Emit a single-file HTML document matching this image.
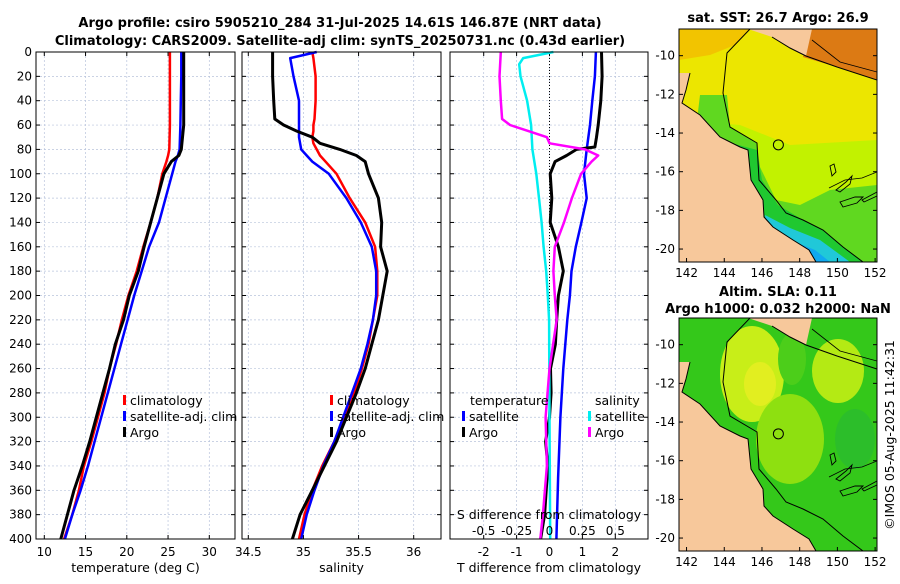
<!DOCTYPE html>
<html><head><meta charset="utf-8">
<style>
body{margin:0;background:#fff;width:900px;height:580px;overflow:hidden;font-family:"DejaVu Sans","Liberation Sans",sans-serif;}
svg text{font-family:"DejaVu Sans","Liberation Sans",sans-serif;}
</style></head>
<body>
<svg id="fig" width="900" height="580" viewBox="0 0 900 580" xmlns="http://www.w3.org/2000/svg">
<text x="340" y="27" font-size="13" font-weight="bold" text-anchor="middle">Argo profile: csiro 5905210_284 31-Jul-2025 14.61S 146.87E (NRT data)</text>
<text x="340" y="45" font-size="13" font-weight="bold" text-anchor="middle">Climatology: CARS2009. Satellite-adj clim: synTS_20250731.nc (0.43d earlier)</text>
<text x="778" y="22" font-size="13" font-weight="bold" text-anchor="middle">sat. SST: 26.7 Argo: 26.9</text>
<text x="778" y="296" font-size="13" font-weight="bold" text-anchor="middle">Altim. SLA: 0.11</text>
<text x="778" y="313" font-size="13" font-weight="bold" text-anchor="middle">Argo h1000: 0.032 h2000: NaN</text>
<text transform="translate(894,435) rotate(-90)" font-size="12.5" text-anchor="middle">©IMOS 05-Aug-2025 11:42:31</text>
<g id="plots"></g>
</svg>
<script>
const tempDepths=[0,20,40,60,80,85,90,100,120,140,160,180,200,220,240,260,280,300,320,340,360,380,400];
const tempClim=[25.23,25.23,25.23,25.23,25.15,25.0,24.8,24.3,23.7,22.9,22.0,21.2,20.2,19.4,18.7,17.9,17.3,16.5,15.7,14.8,14.2,13.4,12.4];
const tempSat=[26.6,26.6,26.55,26.5,26.4,26.2,25.9,25.5,24.7,23.9,22.7,21.8,20.9,20.1,19.3,18.5,17.7,16.9,16.1,15.3,14.4,13.4,12.5];
const tempArgo=[26.9,26.9,26.9,26.9,26.6,26.3,25.4,24.5,23.7,22.9,22.1,21.4,20.3,19.6,18.6,17.9,17.1,16.3,15.5,14.6,13.6,12.8,12.0];
const salDepths=[0,5,20,40,55,60,65,70,75,80,85,90,100,120,140,160,180,200,220,240,260,280,300,320,340,360,380,400];
const salArgo=[34.72,34.72,34.72,34.73,34.74,34.82,34.94,35.08,35.15,35.33,35.48,35.56,35.59,35.68,35.71,35.70,35.76,35.72,35.68,35.62,35.56,35.48,35.39,35.30,35.19,35.08,34.97,34.90];
const salClim=[35.08,35.09,35.11,35.11,35.10,35.09,35.09,35.08,35.09,35.12,35.15,35.2,35.3,35.42,35.56,35.65,35.67,35.67,35.63,35.59,35.53,35.46,35.37,35.28,35.17,35.08,35.01,34.96];
const salSat=[35.12,34.88,34.91,34.96,34.96,34.96,34.96,34.96,34.97,34.98,35.03,35.08,35.23,35.39,35.52,35.62,35.66,35.66,35.63,35.58,35.52,35.44,35.36,35.28,35.18,35.10,35.03,34.98];
const dTSatDepths=[0,20,40,60,80,100,120,140,160,180,200,220,260,300,350,400];
const dTSat=[1.41,1.38,1.30,1.23,1.13,1.05,1.13,0.97,0.8,0.67,0.62,0.54,0.42,0.33,0.26,0.21];
const dTArgoDepths=[0,20,40,60,70,78,80,85,90,100,120,140,160,180,200,220,240,260,280,300,320,340,360,380,400];
const dTArgo=[1.58,1.6,1.56,1.48,1.43,1.38,0.82,0.52,0.17,0.02,0.07,0.02,0.27,0.42,0.27,0.22,0.18,0.03,0.05,0.0,-0.12,-0.05,-0.1,-0.15,-0.27];
const dSSatDepths=[0,5,10,20,40,60,80,100,120,140,160,180,200,220,300,400];
const dSSat=[0.03,-0.2,-0.23,-0.22,-0.17,-0.14,-0.13,-0.1,-0.08,-0.06,-0.045,-0.025,-0.013,-0.003,0.0,0.005];
const dSArgoDepths=[0,20,40,55,60,65,70,75,80,85,90,100,120,140,160,180,200,220,260,300,340,380,400];
const dSArgo=[-0.37,-0.38,-0.37,-0.36,-0.30,-0.16,-0.02,0.0,0.27,0.37,0.32,0.24,0.17,0.11,0.04,0.03,0.04,0.055,0.0,-0.03,-0.02,-0.05,-0.07];
const yTicks=[0,20,40,60,80,100,120,140,160,180,200,220,240,260,280,300,320,340,360,380,400];
const tTicks=[10,15,20,25,30];
const sTicks=[34.5,35,35.5,36];
const dTTicks=[-2,-1,0,1,2];
const dSTicks=[-0.5,-0.25,0,0.25,0.5];
const dSLabels=['-0.5','-0.25','0','0.25','0.5'];
const lonTicks=[142,144,146,148,150,152];
const latTicks=[-10,-12,-14,-16,-18,-20];

const NS='http://www.w3.org/2000/svg';
const root=document.getElementById('plots');
function mk(tag,attrs,parent,text){const e=document.createElementNS(NS,tag);for(const k in attrs)e.setAttribute(k,attrs[k]);if(text!==undefined)e.textContent=text;(parent||root).appendChild(e);return e;}
const Y0=52,Y1=539;
const yS=d=>Y0+(d/400)*(Y1-Y0);
function lin(d0,d1,r0,r1){return v=>r0+(v-d0)/(d1-d0)*(r1-r0);}

const panels=[
 {x0:36,x1:235,sc:lin(10,30,44.3,209.3),ticks:tTicks,name:'temperature-panel',xlabel:'temperature (deg C)'},
 {x0:242,x1:441,sc:lin(34.5,36,248.3,413.7),ticks:sTicks,name:'salinity-panel',xlabel:'salinity'},
 {x0:450,x1:648,sc:lin(-2,2,483.7,615.3),ticks:dTTicks,name:'difference-panel',xlabel:'T difference from climatology'}
];
panels.forEach((p,pi)=>{
 const g=mk('g',{});
 
 
 yTicks.forEach(d=>{const l=mk('line',{x1:p.x0,x2:p.x1,y1:yS(d),y2:yS(d),stroke:'#b8c4dc','stroke-width':0.7,'stroke-dasharray':'2,2'},g);
  
  mk('line',{x1:p.x0,x2:p.x0+4,y1:yS(d),y2:yS(d),stroke:'#000'},g);mk('line',{x1:p.x1-4,x2:p.x1,y1:yS(d),y2:yS(d),stroke:'#000'},g);
  if(pi===0){const t=mk('text',{x:p.x0-4,y:yS(d)+4,'font-size':12,'text-anchor':'end'},g,String(d));}
 });
 p.ticks.forEach(v=>{const X=p.sc(v);const l=mk('line',{x1:X,x2:X,y1:Y0,y2:Y1,stroke:'#b8c4dc','stroke-width':0.7,'stroke-dasharray':'2,2'},g);
  
  mk('line',{x1:X,x2:X,y1:Y1-4,y2:Y1,stroke:'#000'},g);mk('line',{x1:X,x2:X,y1:Y0,y2:Y0+4,stroke:'#000'},g);
  const t=mk('text',{x:X,y:556,'font-size':12,'text-anchor':'middle'},g,String(v));
 });
 const xt=mk('text',{x:(p.x0+p.x1)/2,y:572,'font-size':12.5,'text-anchor':'middle'},g,p.xlabel);
 
 p.g=g;
});
function series(p,deps,vals,sc,color,name,w){
 const pts=vals.map((v,i)=>sc(v).toFixed(1)+','+yS(deps[i]).toFixed(1)).join(' ');
 const e=mk('polyline',{points:pts,fill:'none',stroke:color,'stroke-width':w||2.5,'stroke-linejoin':'round'},p.g);
 
 
}
const P=panels;
series(P[0],tempDepths,tempClim,P[0].sc,'#ff0000','temp-climatology-line');
series(P[0],tempDepths,tempSat,P[0].sc,'#0000ff','temp-satellite-line');
series(P[0],tempDepths,tempArgo,P[0].sc,'#000','temp-argo-line',3);
series(P[1],salDepths,salClim,P[1].sc,'#ff0000','sal-climatology-line');
series(P[1],salDepths,salSat,P[1].sc,'#0000ff','sal-satellite-line');
series(P[1],salDepths,salArgo,P[1].sc,'#000','sal-argo-line',3);
const sS=lin(-0.5,0.5,483.7,615.3);
mk('line',{x1:P[2].sc(0),x2:P[2].sc(0),y1:Y0,y2:Y1,stroke:'#000','stroke-width':1,'stroke-dasharray':'1,2'},P[2].g);
series(P[2],dTSatDepths,dTSat,P[2].sc,'#0000ff','dT-satellite-line');
series(P[2],dTArgoDepths,dTArgo,P[2].sc,'#000','dT-argo-line',3);
series(P[2],dSSatDepths,dSSat,sS,'#00eef0','dS-satellite-line');
series(P[2],dSArgoDepths,dSArgo,sS,'#ff00ff','dS-argo-line');
const st=mk('text',{x:549,y:519,'font-size':12.5,'text-anchor':'middle'},P[2].g,'S difference from climatology');

dSTicks.forEach((v,i)=>{const t=mk('text',{x:sS(v),y:535,'font-size':12,'text-anchor':'middle'},P[2].g,dSLabels[i]);});
panels.forEach(p=>{mk('rect',{x:p.x0,y:Y0,width:p.x1-p.x0,height:Y1-Y0,fill:'none',stroke:'#000','stroke-width':1},p.g);});
function leg(g,x,y,color,label){const e=mk('g',{},g);
 mk('rect',{x:x,y:y-10,width:3,height:10,fill:color},e);mk('text',{x:x+7,y:y,'font-size':12.5},e,label);}
leg(P[0].g,123,405,'#ff0000','climatology');leg(P[0].g,123,421,'#0000ff','satellite-adj. clim');leg(P[0].g,123,437,'#000','Argo');
leg(P[1].g,330,405,'#ff0000','climatology');leg(P[1].g,330,421,'#0000ff','satellite-adj. clim');leg(P[1].g,330,437,'#000','Argo');
mk('text',{x:470,y:405,'font-size':12.5},P[2].g,'temperature');
leg(P[2].g,462,421,'#0000ff','satellite');leg(P[2].g,462,437,'#000','Argo');
mk('text',{x:595,y:405,'font-size':12.5},P[2].g,'salinity');
leg(P[2].g,588,421,'#00eef0','satellite');leg(P[2].g,588,437,'#ff00ff','Argo');

function map(dy,type,name){
 const g=mk('g',{});
 const x0=679,y0=29,W=198,H=233;
 const id='cl'+type;
 const cp=mk('clipPath',{id:id},g);mk('rect',{x:x0,y:y0+dy,width:W,height:H},cp);
 const outer=mk('g',{'clip-path':'url(#'+id+')'},g);
 const c=mk('g',{transform:'translate(0,'+dy+')'},outer);
 const lon=v=>x0+(v-141.6)/(152.1-141.6)*W;
 const lat=v=>y0+dy+(-8.62-v)/(12.05)*H;
 const P=(pts,fill,op)=>mk('polygon',{points:pts,fill:fill,opacity:op||1},c);
 if(type==='sst'){
  P(`${x0},${y0} ${x0+W},${y0} ${x0+W},${y0+H} ${x0},${y0+H}`,'#ece600');
  P('679,29 750,29 735,45 710,55 679,60','#f2c400');
  P('680,120 740,125 790,145 877,140 877,262 680,262','#c2f200');
  P('700,95 727,95 730,127 757,143 760,167 776,200 800,205 830,190 877,185 877,262 680,262','#60d820');
  P('720,140 757,150 762,180 778,205 803,220 823,230 843,247 863,262 680,262','#20c830');
  P('765,215 790,228 820,240 850,262 770,262','#20c8d8');
  P('790,240 815,250 830,262 795,262','#10a8f0');
  P('812,29 877,29 877,80 837,67 803,57','#dc7a14');
 } else {
  P(`${x0},${y0} ${x0+W},${y0} ${x0+W},${y0+H} ${x0},${y0+H}`,'#34c81a');
  mk('ellipse',{cx:752,cy:85,rx:32,ry:48,fill:'#c8ee18'},c);
  mk('ellipse',{cx:760,cy:95,rx:16,ry:22,fill:'#e2ee20'},c);
  mk('ellipse',{cx:838,cy:82,rx:26,ry:32,fill:'#b4ea14'},c);
  mk('ellipse',{cx:792,cy:70,rx:14,ry:26,fill:'#4cce1a'},c);
  mk('ellipse',{cx:790,cy:150,rx:34,ry:45,fill:'#8ee010'},c);
  mk('ellipse',{cx:855,cy:150,rx:20,ry:30,fill:'#2cbe2a'},c);
 }
 const land='#f7c89b';
 P('679,73 690,73 686,90 682,103 700,115 720,137 740,147 748,150 751,180 763,200 764,217 773,227 793,240 809,250 816,262 679,262',land);
 mk('polyline',{points:'690,73 686,90 682,103 700,115 720,137 740,147 748,150 751,180 763,200 764,217 773,227 793,240 809,250 816,262',fill:'none',stroke:'#000','stroke-width':1},c);
 P('748,29 812,29 806,56 790,48 772,37',land);
 mk('polyline',{points:'772,37 790,48 806,56 837,67 877,80',fill:'none',stroke:'#000','stroke-width':1},c);
 mk('polyline',{points:'750,29 727,53 723,93 730,127 757,143 759,180 776,200 786,213 803,220 823,230 843,247 863,262',fill:'none',stroke:'#000','stroke-width':1},c);
 mk('polyline',{points:'812,40 840,62 877,72',fill:'none',stroke:'#000','stroke-width':0.8},c);
 mk('polyline',{points:'829,188 845,180 862,178 877,172',fill:'none',stroke:'#000','stroke-width':0.8},c);
 mk('path',{d:'M830,166 l4,-2 l2,8 l-4,4 z M836,190 l10,-8 l6,-6 l-2,8 l-10,8 z M840,202 l15,-5 l8,0 l-6,6 l-14,4 z M862,200 l15,-8 l0,4 l-13,6 z',fill:'none',stroke:'#000','stroke-width':0.9},c);
 const m=mk('circle',{cx:lon(146.87),cy:lat(-14.61),r:5,fill:'none',stroke:'#000','stroke-width':1},g);
 
 mk('rect',{x:x0,y:y0+dy,width:W,height:H,fill:'none',stroke:'#000'},g);
 lonTicks.forEach(v=>{const X=lon(v);mk('line',{x1:X,x2:X,y1:y0+dy+H-4,y2:y0+dy+H,stroke:'#000'},g);
  const t=mk('text',{x:X,y:y0+dy+H+15,'font-size':12,'text-anchor':'middle'},g,String(v));});
 latTicks.forEach(v=>{const Yv=lat(v);mk('line',{x1:x0+W-4,x2:x0+W,y1:Yv,y2:Yv,stroke:'#000'},g);mk('line',{x1:x0,x2:x0+4,y1:Yv,y2:Yv,stroke:'#000'},g);
  const t=mk('text',{x:x0-4,y:Yv+4,'font-size':12,'text-anchor':'end'},g,String(v));});
}
map(0,'sst','sst-map');
map(289,'sla','sla-map');
</script>
</body></html>
